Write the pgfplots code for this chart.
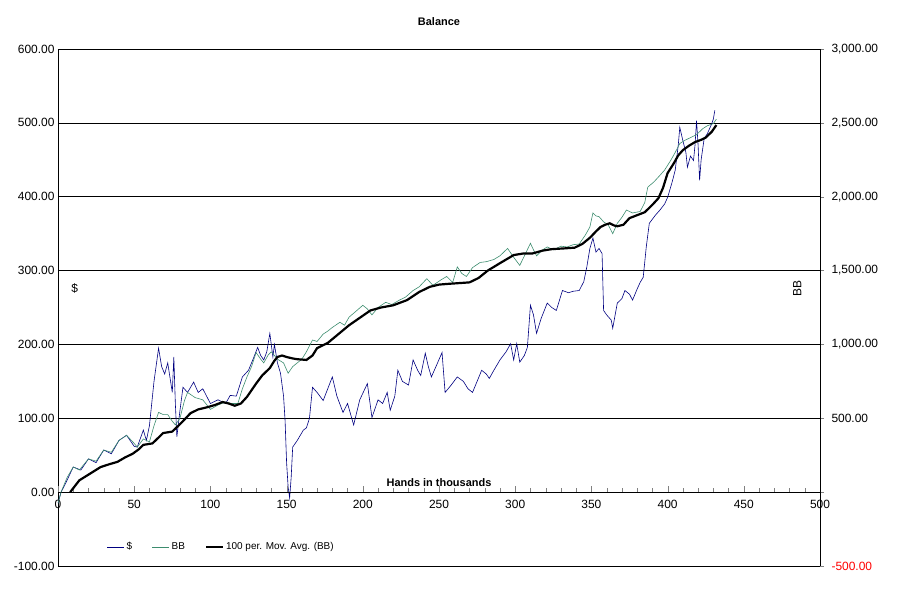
\documentclass[border=0pt]{standalone}
\usepackage{pgfplots}
\pgfplotsset{compat=1.18}
\usepackage{fontspec}
\setmainfont{Liberation Sans}
\definecolor{dol}{RGB}{0,0,128}
\definecolor{bbg}{RGB}{60,140,110}
\begin{document}
\begin{tikzpicture}
\pgfplotsset{
  every axis/.style={scale only axis, width=762bp, height=517bp, xmin=0, xmax=500,
    /pgf/number format/assume math mode=true},
}
\begin{axis}[
  at={(0,0)}, anchor=south west,
  ymin=-100, ymax=600,
  axis x line=none, axis y line*=left,
  ytick={-100,0,...,600},
  ymajorgrids, grid style={black, line width=0.6pt},
  yticklabel style={/pgf/number format/fixed, /pgf/number format/fixed zerofill, /pgf/number format/precision=2, font=\fontsize{12}{14}\selectfont},
  ytick style={draw=none},
  title={Balance}, title style={font=\bfseries\fontsize{11}{13}\selectfont, yshift=14bp},
  legend style={draw=none, at={(rel axis cs:0.06,0.037)}, anchor=west, legend columns=3,
    font=\fontsize{10}{12}\selectfont, /tikz/every even column/.append style={column sep=18bp}},
  legend cell align=left,
]
\addplot[dol, line width=0.6pt] coordinates {
(0,-15)(2,0)(5,12)(10,34)(15,30)(20,45)(25,40)(30,57)(35,52)(40,70)(45,77)(50,62)(52,61)(56,84)(58,70)(60,90)(63,150)(66,195)(68,170)(70,160)(72,175)(75,135)(76,183)(77,120)(78,75)(80,110)(82,142)(85,135)(89,149)(92,135)(95,140)(100,120)(105,125)(110,120)(113,131)(117,130)(121,156)(125,165)(128,180)(131,196)(133,185)(135,179)(137,190)(139,215)(141,183)(142,200)(144,175)(146,161)(148,130)(149,97)(150,40)(151,7)(152,-8)(153,20)(154,61)(157,70)(161,84)(163,87)(165,100)(167,142)(170,135)(174,124)(177,140)(180,156)(183,130)(187,108)(190,120)(194,91)(198,125)(203,147)(206,101)(210,125)(213,120)(216,135)(218,111)(221,130)(223,165)(226,150)(230,145)(233,179)(236,165)(238,158)(241,188)(243,170)(245,156)(248,170)(252,189)(254,135)(258,145)(262,156)(266,150)(269,140)(272,135)(275,150)(278,165)(281,160)(283,154)(286,165)(290,179)(294,190)(297,201)(299,179)(301,201)(303,176)(306,185)(308,196)(310,253)(312,240)(314,215)(317,235)(321,256)(324,250)(327,246)(331,273)(335,270)(338,272)(342,273)(345,285)(347,305)(349,330)(351,344)(353,325)(355,330)(357,323)(358,246)(360,240)(363,233)(364,222)(367,256)(370,262)(372,273)(375,268)(377,260)(380,275)(382,284)(384,291)(386,332)(388,364)(392,375)(395,382)(398,390)(400,399)(403,420)(405,436)(407,470)(408,494)(410,476)(412,460)(413,440)(415,455)(417,449)(418,470)(419,503)(420,470)(421,422)(422,450)(424,479)(426,485)(429,499)(430,505)(431,517)
};
\addlegendentry{\$}
\addlegendimage{bbg, line width=0.6pt}
\addlegendentry{BB}
\addlegendimage{black, line width=2.2pt}
\addlegendentry{100 per. Mov. Avg. (BB)}
\node[font=\bfseries\fontsize{11}{13}\selectfont] at (axis cs:250,13) {Hands in thousands};
\node[font=\fontsize{12}{14}\selectfont] at (axis cs:11,276) {\$};
\node[rotate=90, font=\fontsize{12}{14}\selectfont] at (axis cs:485,276) {BB};
\end{axis}
\begin{axis}[
  at={(0,73.857bp)}, anchor=south west, height=443.143bp,
  ymin=0, ymax=600,
  axis x line=bottom, axis y line=none,
  xtick={0,50,...,500}, minor x tick num=4,
  x tick label style={font=\fontsize{12}{14}\selectfont, yshift=-4bp},
  tick align=inside, major tick length=6bp, minor tick length=4bp,
  x axis line style={-, black},
]
\end{axis}
\begin{axis}[
  at={(0,0)}, anchor=south west,
  ymin=-500, ymax=3000,
  axis x line=none, axis y line*=right,
  ytick={-500,0,500,...,3000},
  yticklabels={\textcolor{red}{-500.00},,500.00,{1,000.00},{1,500.00},{2,000.00},{2,500.00},{3,000.00}},
  y tick label style={font=\fontsize{12}{14}\selectfont, xshift=4bp},
  tick align=outside, major tick length=4bp,
]
\addplot[bbg, line width=0.6pt] coordinates {
(0,-75)(2,0)(6,100)(10,170)(14,150)(20,225)(25,210)(30,285)(35,270)(40,350)(45,385)(50,330)(52,305)(56,360)(60,340)(63,450)(66,540)(69,525)(72,525)(75,480)(77,455)(80,500)(83,620)(85,675)(90,640)(95,625)(100,560)(105,590)(110,610)(114,600)(118,600)(121,700)(124,780)(127,850)(130,945)(133,900)(135,875)(138,930)(140,950)(144,900)(148,875)(151,805)(154,850)(157,875)(160,900)(163,950)(167,1030)(170,1020)(174,1070)(177,1090)(180,1115)(185,1150)(188,1130)(191,1185)(195,1220)(200,1265)(203,1240)(206,1200)(210,1250)(215,1285)(219,1270)(224,1300)(228,1320)(233,1365)(237,1390)(242,1445)(246,1400)(251,1435)(255,1460)(259,1420)(262,1525)(265,1480)(268,1460)(272,1520)(277,1555)(281,1560)(286,1575)(290,1600)(295,1650)(299,1590)(303,1535)(307,1620)(310,1685)(312,1640)(314,1600)(318,1640)(321,1660)(325,1640)(330,1665)(334,1660)(338,1675)(342,1680)(346,1740)(349,1795)(351,1890)(353,1870)(355,1865)(358,1830)(361,1810)(364,1750)(367,1820)(370,1860)(373,1910)(377,1890)(382,1900)(385,1960)(387,2065)(391,2100)(395,2145)(398,2180)(402,2245)(405,2300)(408,2360)(411,2380)(415,2400)(419,2420)(423,2460)(426,2480)(430,2495)(432,2525)
};
\addplot[black, line width=2.2pt] coordinates {
(8,0)(11,40)(14,80)(21,125)(28,170)(34,190)(39,205)(44,235)(49,260)(53,290)(56,320)(62,330)(66,370)(69,400)(75,410)(81,470)(87,535)(92,560)(98,575)(103,590)(108,610)(112,600)(116,585)(120,600)(124,645)(127,690)(130,735)(134,790)(139,840)(142,890)(144,915)(147,925)(150,915)(154,905)(157,900)(163,895)(167,925)(170,975)(177,1010)(184,1070)(191,1130)(198,1180)(205,1230)(212,1250)(220,1265)(229,1300)(237,1355)(244,1390)(250,1405)(256,1410)(263,1415)(270,1420)(276,1450)(282,1500)(290,1550)(299,1605)(305,1615)(311,1615)(318,1635)(324,1645)(332,1650)(339,1655)(344,1680)(349,1722)(353,1765)(356,1795)(359,1810)(362,1820)(365,1805)(367,1800)(371,1810)(375,1855)(380,1875)(385,1895)(390,1945)(394,1990)(397,2060)(400,2160)(404,2225)(407,2280)(410,2315)(414,2345)(418,2370)(422,2385)(425,2400)(429,2440)(432,2485)
};
\end{axis}
\path (-58bp,-46bp) rectangle ++(899bp,612bp);
\end{tikzpicture}
\end{document}
